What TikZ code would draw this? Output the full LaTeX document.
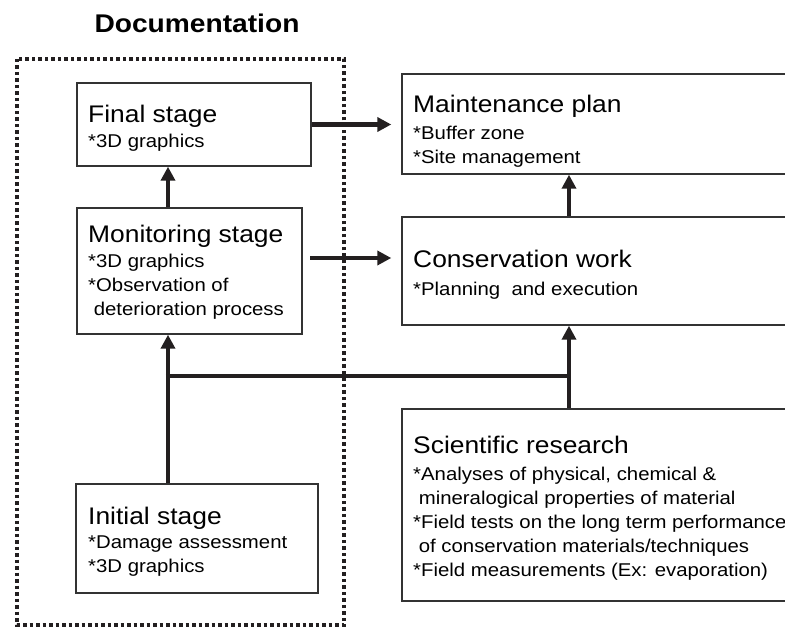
\documentclass[tikz,border=0pt]{standalone}
\usepackage{fontspec}
\setmainfont{Liberation Sans}[FakeStretch=1.1]
\usetikzlibrary{arrows.meta}
\definecolor{ink}{HTML}{231F20}
\definecolor{boxline}{HTML}{333333}
\tikzset{
  box/.style={draw=boxline, line width=1.4pt, rectangle, inner sep=0pt},
  docbox/.style={draw=ink, line width=3.5pt, dash pattern=on 3.5pt off 3pt},
  arr/.style={draw=ink, line width=4.5pt, -{Triangle[length=14pt,width=14pt]}},
  bar/.style={draw=ink, line width=4.5pt},
  head/.style={anchor=base west, inner sep=0pt, font=\fontsize{24}{28}\selectfont},
  sub/.style={anchor=base west, inner sep=0pt, align=left, font=\fontsize{18.5}{24}\selectfont},
  title/.style={anchor=base, inner sep=0pt, font=\fontsize{25.6}{30}\selectfont\bfseries}
}
\begin{document}
\begin{tikzpicture}[x=1pt,y=-1pt]
\useasboundingbox (0,0) rectangle (785,631);
\clip (0,0) rectangle (785,631);
\fill[white] (0,0) rectangle (785,631);

% title
\node[title] (ttl) at (197,33) {Documentation};

% dotted documentation frame
\draw[docbox] (17,59) rectangle (344,625);

% boxes
\node[box, minimum width=234pt, minimum height=83pt] (final) at (194,124.5) {};
\node[box, minimum width=225pt, minimum height=126pt] (monit) at (189.5,271) {};
\node[box, minimum width=242pt, minimum height=109pt] (init) at (197,538.5) {};
\node[box, minimum width=418pt, minimum height=100pt] (maint) at (611,124) {};
\node[box, minimum width=418pt, minimum height=108pt] (cons) at (611,271) {};
\node[box, minimum width=418pt, minimum height=192pt] (sci) at (611,505) {};

% texts
\node[head] (tfinal) at (88,123) {Final stage};
\node[sub] (sfinal) at (88,148) {*3D graphics};

\node[head] (tmonit) at (88,243) {Monitoring stage};
\node[sub, anchor=north west] (smonit) at (88,254) {*3D graphics\\*Observation of\\\ deterioration process};

\node[head] (tinit) at (88,524) {Initial stage};
\node[sub, anchor=north west] (sinit) at (88,536) {*Damage assessment\\*3D graphics};

\node[head] (tmaint) at (413,113) {Maintenance plan};
\node[sub, anchor=north west] (smaint) at (413,126) {*Buffer zone\\*Site management};

\node[head] (tcons) at (413,268) {Conservation work};
\node[sub] (scons) at (413,295) {*Planning\ \ and execution};

\node[head] (tsci) at (413,453) {Scientific research};
\node[sub, anchor=north west] (ssci) at (413,467) {*Analyses of physical, chemical \&\\\ mineralogical properties of material\\*Field tests on the long term performance\\\ of conservation materials/techniques\\*Field measurements (Ex: evaporation)};

% connector helpers
\coordinate (vx) at (168,0);
\coordinate (vr) at (569,0);
\coordinate (mc) at (310,258);
\coordinate (junc) at (168,376);
\coordinate (jr) at (569,376);

% connectors
\draw[arr, shorten >=10pt] (final.east) -- (maint.west |- final.east);
\draw[arr, shorten >=10pt] (mc) -- (mc -| cons.west);
\draw[arr] (vx |- monit.north) -- (vx |- final.south);
\draw[arr] (vx |- init.north) -- (vx |- monit.south);
\draw[bar] ([xshift=-2.25pt]junc) -- ([xshift=2.25pt]jr);
\draw[arr] (vr |- sci.north) -- (vr |- cons.south);
\draw[arr] (vr |- cons.north) -- (vr |- maint.south);
\end{tikzpicture}
\end{document}
